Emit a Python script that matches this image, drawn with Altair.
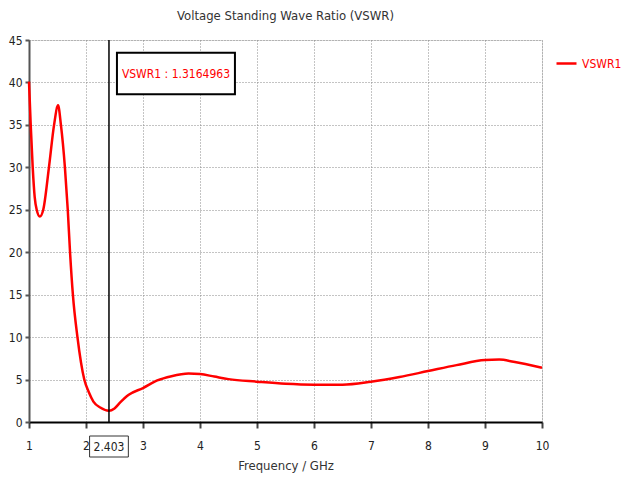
import altair as alt
import pandas as pd

freq = [1.00, 1.03, 1.065, 1.10, 1.135, 1.19, 1.25, 1.35, 1.44, 1.51, 1.56, 1.63,
        1.68, 1.72, 1.77, 1.85, 1.97, 2.05, 2.13, 2.25, 2.403, 2.50, 2.60, 2.75,
        3.00, 3.25, 3.50, 3.80, 4.00, 4.25, 4.50, 5.00, 5.50, 6.00, 6.50, 7.00,
        7.50, 8.00, 8.50, 9.00, 9.25, 9.50, 10.0]
vswr = [40.1, 35.0, 30.0, 26.5, 25.0, 24.2, 25.0, 30.0, 35.0, 37.3, 35.0, 30.0,
        25.0, 20.0, 15.0, 10.0, 5.0, 3.5, 2.4, 1.7, 1.32, 1.6, 2.3, 3.2,
        4.0, 4.9, 5.4, 5.7, 5.65, 5.35, 5.05, 4.75, 4.5, 4.4, 4.4, 4.75,
        5.3, 6.0, 6.7, 7.3, 7.35, 7.1, 6.4]
series_name = "VSWR1"
marker_freq = 2.403
marker_value = 1.3164963
x_ticks = [1, 2, 3, 4, 5, 6, 7, 8, 9, 10]
y_ticks = [0, 5, 10, 15, 20, 25, 30, 35, 40, 45]

FONT = "DejaVu Sans Condensed"
W, H = 513, 382

df = pd.DataFrame({"f": freq, "v": vswr, "s": series_name})

xscale = alt.Scale(domain=[1, 10], nice=False, zero=False)
yscale = alt.Scale(domain=[0, 45], nice=False)

line = alt.Chart(df).mark_line(strokeWidth=2.5, interpolate="monotone").encode(
    x=alt.X("f:Q", scale=xscale,
            axis=alt.Axis(values=x_ticks, format="d", title="Frequency / GHz", grid=True,
                          gridDash=[1, 2], gridColor="#888", gridWidth=1,
                          domainColor="#000", domainWidth=2, tickColor="#444",
                          tickSize=6, tickWidth=2, labelPadding=12, labelFontSize=12,
                          labelFont=FONT, labelColor="#222", titleFont=FONT,
                          titleFontSize=13, titleFontWeight="normal", titleColor="#333",
                          titlePadding=8, labelFlush=False)),
    y=alt.Y("v:Q", scale=yscale,
            axis=alt.Axis(values=y_ticks, format="d", title=None, grid=True,
                          gridDash=[1, 2], gridColor="#888", gridWidth=1,
                          domainColor="#555", domainWidth=2, tickColor="#555",
                          tickSize=4, tickWidth=2, labelPadding=3, labelFontSize=12,
                          labelFont=FONT, labelColor="#222", labelFlush=False)),
    color=alt.Color("s:N", scale=alt.Scale(range=["#ff0000"]),
                    legend=alt.Legend(title=None, orient="none", legendX=526, legendY=12,
                                      symbolType="stroke", symbolStrokeWidth=2.5,
                                      symbolSize=400, labelFont=FONT, labelFontSize=12,
                                      labelColor="#ff0000")),
)

mk = pd.DataFrame({"f": [marker_freq], "v": [marker_value],
                   "label": [f"{series_name} : {marker_value}"],
                   "tick": [f"{marker_freq}"]})

rule = alt.Chart(mk).mark_rule(color="#000", strokeWidth=1.5).encode(
    x="f:Q", y=alt.value(0), y2=alt.value(H))

box = alt.Chart(mk).mark_rect(fill="white", stroke="#000", strokeWidth=2).transform_calculate(
    x1="datum.f + 0.14", x2="datum.f + 2.21", y1="43.5", y2="38.6").encode(
    x=alt.X("x1:Q", scale=xscale), x2="x2:Q",
    y=alt.Y("y1:Q", scale=yscale), y2="y2:Q")

box_text = alt.Chart(mk).mark_text(color="#ff0000", font=FONT, fontSize=12,
                                   align="center", baseline="middle").transform_calculate(
    xc="datum.f + 1.175", yc="41.05").encode(
    x=alt.X("xc:Q", scale=xscale), y=alt.Y("yc:Q", scale=yscale), text="label:N")

tick_box = alt.Chart(mk).mark_rect(fill="white", stroke="#333", strokeWidth=1,
                                   clip=False).transform_calculate(
    x1="datum.f - 0.34", x2="datum.f + 0.34").encode(
    x=alt.X("x1:Q", scale=xscale), x2="x2:Q",
    y=alt.value(H + 14), y2=alt.value(H + 35))

tick_text = alt.Chart(mk).mark_text(font=FONT, fontSize=12, color="#222",
                                    baseline="middle", clip=False).encode(
    x=alt.X("f:Q", scale=xscale), y=alt.value(H + 25), text="tick:N")

chart = alt.layer(line, rule, box, box_text, tick_box, tick_text).properties(
    width=W, height=H,
    title=alt.TitleParams("Voltage Standing Wave Ratio (VSWR)", font=FONT, fontSize=13,
                          fontWeight="normal", color="#333", offset=11),
    autosize=alt.AutoSizeParams(type="none"),
    padding={"left": 21, "top": 32, "right": 80, "bottom": 60},
).configure_view(stroke="#222", strokeWidth=1.5).configure(background="white")

chart.save("out.html", embed_options={"renderer": "svg", "actions": False})
